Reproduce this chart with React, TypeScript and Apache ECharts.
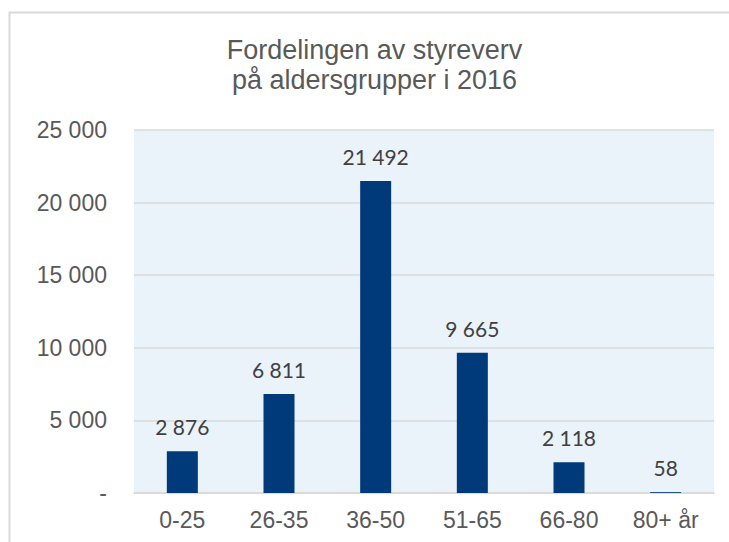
import React, { useEffect, useRef } from "react";
import * as echarts from "echarts";

const categories = ["0-25", "26-35", "36-50", "51-65", "66-80", "80+ år"];
const values = [2876, 6811, 21492, 9665, 2118, 58];
const titleText = "Fordelingen av styreverv\npå aldersgrupper i 2016";

const fmt = (v: number) =>
  v === 0 ? "-" : String(Math.round(v)).replace(/\B(?=(\d{3})+(?!\d))/g, " ");

export default function App() {
  const ref = useRef<HTMLDivElement>(null);
  useEffect(() => {
    const chart = echarts.init(ref.current!, null, { renderer: "svg" });
    chart.setOption({
      animation: false,
      backgroundColor: "#ffffff",
      graphic: [
        {
          type: "rect",
          shape: { x: 9.5, y: 12.5, width: 800, height: 700 },
          style: { fill: "none", stroke: "#d9d9d9", lineWidth: 2 },
          silent: true,
          z: -10,
        },
        {
          type: "text",
          x: 374.5,
          y: 35,
          silent: true,
          style: {
            text: titleText,
            fontFamily: "Liberation Sans",
            fontSize: 27,
            fill: "#595959",
            align: "center",
            verticalAlign: "top",
            textAlign: "center",
            textVerticalAlign: "top",
            lineHeight: 30,
          },
        },
      ],
      grid: {
        left: 134,
        right: 15,
        top: 130,
        bottom: 49,
        show: true,
        backgroundColor: "#EAF2FA",
        borderWidth: 0,
      },
      xAxis: {
        type: "category",
        data: categories,
        axisLine: { lineStyle: { color: "#d9d9d9", width: 1.5 } },
        axisTick: { show: false },
        axisLabel: {
          fontFamily: "Liberation Sans",
          fontSize: 23,
          color: "#595959",
          margin: 15,
        },
      },
      yAxis: {
        type: "value",
        min: 0,
        max: 25000,
        interval: 5000,
        axisLine: { show: false },
        axisTick: { show: false },
        splitLine: { lineStyle: { color: "#d9d9d9", width: 1.5 } },
        axisLabel: {
          fontFamily: "Liberation Sans",
          fontSize: 23,
          color: "#595959",
          margin: 27,
          formatter: (v: number) => fmt(v),
        },
      },
      series: [
        {
          type: "bar",
          data: values,
          barWidth: 31,
          itemStyle: { color: "#003A7A" },
          label: {
            show: true,
            position: "top",
            distance: 14,
            fontFamily: "Lato",
            fontSize: 21,
            color: "#404040",
            formatter: (p: any) => fmt(p.value),
          },
        },
      ],
    });
    return () => chart.dispose();
  }, []);
  return (
    <div
      ref={ref}
      style={{ position: "fixed", left: 0, top: 0, width: 729, height: 542 }}
    />
  );
}
